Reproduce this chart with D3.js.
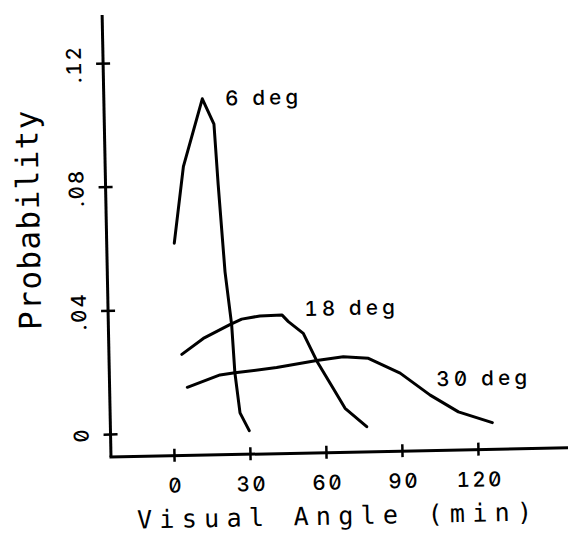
<!DOCTYPE html>
<html>
<head>
<meta charset="utf-8">
<script src="https://cdnjs.cloudflare.com/ajax/libs/d3/7.8.5/d3.min.js"></script>
<style>
  html, body { margin: 0; padding: 0; background: #fff; }
  text { font-family: "DejaVu Sans Mono", monospace; fill: #000; }
  text.num { font-family: Inter, "DejaVu Sans Mono", sans-serif; font-feature-settings: "zero" 1, "tnum" 1; font-weight: 500; }
</style>
</head>
<body>
<svg id="chart"></svg>
<script>
// visual angle (min) and probability
const deg6x  = [1.8, 6.0, 14.0, 18.4, 19.6, 21.6, 23.8, 24.7, 26.4, 29.9];
const deg6y  = [0.0613, 0.0860, 0.1078, 0.0995, 0.0798, 0.0517, 0.0345, 0.0189, 0.0060, 0.0002];
const deg18x = [3.9, 12.5, 22.9, 27.8, 35.0, 43.7, 46.2, 52.0, 57.1, 63.4, 67.9, 76.3];
const deg18y = [0.0253, 0.0303, 0.0345, 0.0363, 0.0372, 0.0374, 0.0352, 0.0313, 0.0223, 0.0133, 0.0068, 0.0007];
const deg30x = [5.8, 18.8, 24.7, 41.2, 57.1, 67.6, 77.5, 89.9, 101.6, 112.6, 125.9];
const deg30y = [0.0146, 0.0184, 0.0190, 0.0204, 0.0224, 0.0235, 0.0228, 0.0178, 0.0105, 0.0049, 0.0012];
const seriesNames = ["6 deg", "18 deg", "30 deg"];
const xTicks = [0, 30, 60, 90, 120];
const yTicks = [0, 0.04, 0.08, 0.12];
const yTickLabels = ["0", ".04", ".08", ".12"];

const width = 568, height = 546;
const origin = { x: 111, y: 457 };

const svg = d3.select("#chart")
  .attr("width", width)
  .attr("height", height);

// the scan is turned a little, so the whole plot gets the same tilt
const g = svg.append("g")
  .attr("transform", "rotate(-1.15," + origin.x + "," + origin.y + ")");

const x = d3.scaleLinear().domain([0, 120]).range([174, 478]);
const y = d3.scaleLinear().domain([0, 0.12]).range([434, 63]);

// axis lines
g.append("line")
  .attr("x1", origin.x).attr("y1", origin.y)
  .attr("x2", origin.x).attr("y2", 15)
  .attr("stroke", "#000").attr("stroke-width", 3);
g.append("line")
  .attr("x1", origin.x - 1.5).attr("y1", origin.y)
  .attr("x2", 575).attr("y2", origin.y)
  .attr("stroke", "#000").attr("stroke-width", 3);

// x axis
const xAxis = g.append("g")
  .attr("transform", "translate(0," + origin.y + ")")
  .call(d3.axisBottom(x).tickValues(xTicks).tickSize(0).tickPadding(0).tickFormat(d3.format("d")));
xAxis.select(".domain").remove();
xAxis.selectAll(".tick line")
  .attr("y1", -7).attr("y2", 6)
  .attr("stroke", "#000").attr("stroke-width", 2.5);
xAxis.selectAll(".tick text")
  .attr("class", "num")
  .attr("y", 37)
  .attr("dy", null)
  .attr("font-size", "20.5px")
  .attr("letter-spacing", "2.5px")
  .attr("dx", "1.2px")
  .attr("text-anchor", "middle");

// y axis
const yAxis = g.append("g")
  .attr("transform", "translate(" + origin.x + ",0)")
  .call(d3.axisLeft(y).tickValues(yTicks).tickSize(0).tickPadding(0)
    .tickFormat((d, i) => yTickLabels[i]));
yAxis.select(".domain").remove();
yAxis.selectAll(".tick line")
  .attr("x1", -7).attr("x2", 7)
  .attr("stroke", "#000").attr("stroke-width", 2.5);
yAxis.selectAll(".tick text")
  .attr("class", "num")
  .attr("x", null).attr("dy", null)
  .attr("transform", "translate(-22,0) rotate(-90)")
  .attr("font-size", "20.5px")
  .attr("letter-spacing", "2px")
  .attr("text-anchor", "middle");

// curves
const line = d3.line()
  .x(d => x(d[0]))
  .y(d => y(d[1]));

const series = [
  d3.zip(deg6x, deg6y),
  d3.zip(deg18x, deg18y),
  d3.zip(deg30x, deg30y)
];

g.selectAll(".curve")
  .data(series)
  .join("path")
  .attr("class", "curve")
  .attr("d", line)
  .attr("fill", "none")
  .attr("stroke", "#000")
  .attr("stroke-width", 3)
  .attr("stroke-linejoin", "round")
  .attr("stroke-linecap", "round");

// curve labels, placed by data position
const labelPos = [[23, 0.1055], [52.6, 0.0369], [104.2, 0.0133]];
g.selectAll(".lbl")
  .data(seriesNames)
  .join("text")
  .attr("class", "lbl num")
  .attr("x", (d, i) => x(labelPos[i][0]))
  .attr("y", (d, i) => y(labelPos[i][1]))
  .attr("font-size", "20.5px")
  .attr("letter-spacing", "4.2px")
  .text(d => d);

// axis titles
g.append("text")
  .attr("transform", "translate(44,218) rotate(-90)")
  .attr("text-anchor", "middle")
  .attr("font-size", "31px")
  .attr("letter-spacing", "1.4px")
  .text("Probability");

g.append("text")
  .attr("x", 337)
  .attr("y", 529)
  .attr("text-anchor", "middle")
  .attr("font-size", "25px")
  .attr("letter-spacing", "7.3px")
  .text("Visual Angle (min)");
</script>
</body>
</html>
